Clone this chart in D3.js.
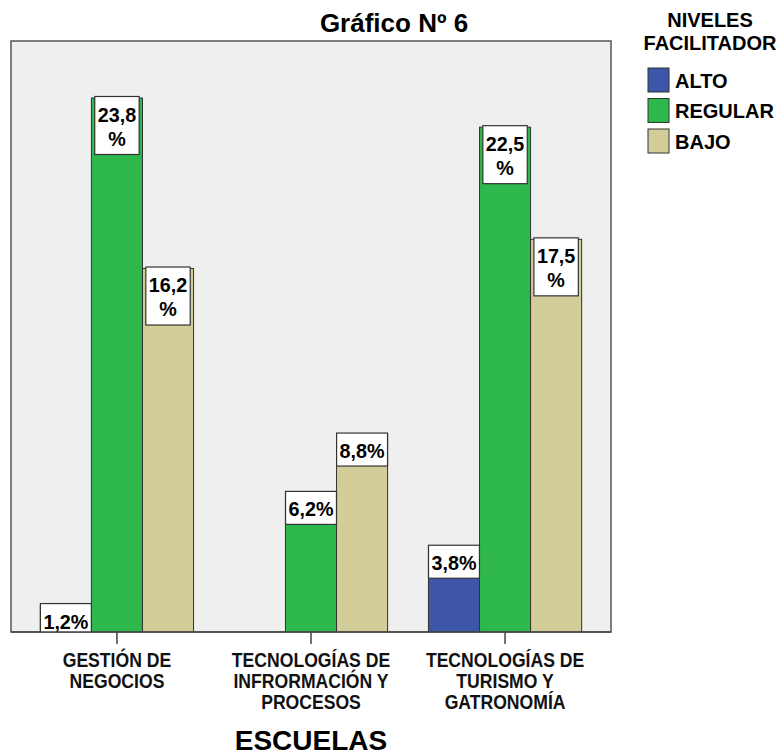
<!DOCTYPE html>
<html><head><meta charset="utf-8">
<script src="https://cdn.jsdelivr.net/npm/d3@7"></script>
<style>body{margin:0;background:#fff}</style>
</head><body>
<svg id="chart" width="782" height="755"></svg>
<script>
const categories = [
  ["GESTIÓN DE", "NEGOCIOS"],
  ["TECNOLOGÍAS DE", "INFRORMACIÓN Y", "PROCESOS"],
  ["TECNOLOGÍAS DE", "TURISMO Y", "GATRONOMÍA"]
];
const seriesNames = ["ALTO", "REGULAR", "BAJO"];
const alto    = [1.2, null, 3.8];
const regular = [23.8, 6.2, 22.5];
const bajo    = [16.2, 8.8, 17.5];
const colors = ["#3d56a9", "#2eb84c", "#d3ce99"];
const title = "Gráfico Nº 6";
const xTitle = "ESCUELAS";
const legendTitle = ["NIVELES", "FACILITADOR"];

(function () {
const series = [alto, regular, bajo];
const svg = d3.select("#chart");
const pL = 11, pR = 611, pT = 41, base = 632;
const font = "'Liberation Sans', Arial, sans-serif";

svg.append("defs").append("clipPath").attr("id", "plotclip")
  .append("rect").attr("x", pL).attr("y", pT).attr("width", pR - pL).attr("height", base - pT);

const x0 = d3.scaleBand().domain(d3.range(categories.length)).range([pL, pR]).paddingInner(0).paddingOuter(0.046);
const x1 = d3.scaleBand().domain(d3.range(seriesNames.length)).range([0, x0.bandwidth()]).paddingInner(0).paddingOuter(0.4);
const y = d3.scaleLinear().domain([0, 23.8]).range([base, 98]);

svg.append("rect").attr("x", pL).attr("y", pT).attr("width", pR - pL).attr("height", base - pT)
  .attr("fill", "#efefef").attr("stroke", "#555").attr("stroke-width", 1.5);

const plot = svg.append("g").attr("clip-path", "url(#plotclip)");
const groups = plot.selectAll("g.grp").data(categories).join("g").attr("class", "grp")
  .attr("transform", (d, i) => `translate(${x0(i)},0)`);
groups.each(function(d, i) {
  const g = d3.select(this);
  const bd = series.map((s, j) => ({ v: s[i], j })).filter(b => b.v != null);
  g.selectAll("rect.bar").data(bd).join("rect").attr("class", "bar")
    .attr("x", b => x1(b.j)).attr("width", x1.bandwidth())
    .attr("y", b => y(b.v)).attr("height", b => base - y(b.v))
    .attr("fill", b => colors[b.j]).attr("stroke", "#333").attr("stroke-width", 1);
  bd.forEach(b => {
    const str = d3.format(".1f")(b.v).replace(".", ",");
    const lines = b.v >= 10 ? [str, "%"] : [str + "%"];
    const cx = x1(b.j) + x1.bandwidth() / 2;
    const ty = y(b.v) - 1.5;
    const lg = g.append("g");
    const box = lg.append("rect");
    let w = 0;
    lines.forEach((ln, k) => {
      const t = lg.append("text").attr("transform", `translate(${cx},${ty + 25 + k * 24}) scale(0.94,1)`)
        .attr("text-anchor", "middle").attr("font-family", font).attr("font-weight", "bold")
        .attr("font-size", 21).attr("fill", "#000").text(ln);
      w = Math.max(w, t.node().getComputedTextLength() * 0.94);
    });
    const bw = Math.min(w + 6, x1.bandwidth());
    const bh = lines.length === 1 ? 33 : 58;
    box.attr("x", cx - bw / 2).attr("y", ty).attr("width", bw).attr("height", bh)
      .attr("fill", "#fff").attr("stroke", "#333").attr("stroke-width", 1.2);
  });
});

svg.append("line").attr("x1", pL).attr("x2", pR).attr("y1", base).attr("y2", base)
  .attr("stroke", "#444").attr("stroke-width", 1.5);

const xAxis = d3.axisBottom(x0).tickSize(12).tickFormat("");
const ax = svg.append("g").attr("transform", `translate(0,${base})`).call(xAxis);
ax.select(".domain").remove();
ax.selectAll(".tick line").attr("stroke", "#444").attr("stroke-width", 1.5);
categories.forEach((lines, i) => {
  const cx = x0(i) + x0.bandwidth() / 2;
  lines.forEach((ln, k) => {
    svg.append("text").attr("transform", `translate(${cx},${667 + k * 21}) scale(0.88,1)`)
      .attr("text-anchor", "middle").attr("font-family", font).attr("font-weight", "bold")
      .attr("font-size", 20).attr("fill", "#111").text(ln);
  });
});

svg.append("text").attr("x", (pL + pR) / 2).attr("y", 750).attr("text-anchor", "middle")
  .attr("font-family", font).attr("font-weight", "bold").attr("font-size", 28).attr("fill", "#000").text(xTitle);

svg.append("text").attr("x", 394).attr("y", 32).attr("text-anchor", "middle")
  .attr("font-family", font).attr("font-weight", "bold").attr("font-size", 26).attr("fill", "#000").text(title);

legendTitle.forEach((t, k) => {
  svg.append("text").attr("x", 710).attr("y", 27 + k * 23).attr("text-anchor", "middle")
    .attr("font-family", font).attr("font-weight", "bold").attr("font-size", 20).attr("fill", "#000").text(t);
});
const lg = svg.append("g").selectAll("g").data(seriesNames).join("g")
  .attr("transform", (d, i) => `translate(648,${68 + i * 30.5})`);
lg.append("rect").attr("width", 21).attr("height", 24).attr("fill", (d, i) => colors[i])
  .attr("stroke", "#333").attr("stroke-width", 1);
lg.append("text").attr("x", 27).attr("y", 19.5).attr("font-family", font).attr("font-weight", "bold")
  .attr("font-size", 20).attr("fill", "#000").text(d => d);
})();
</script>
</body></html>
